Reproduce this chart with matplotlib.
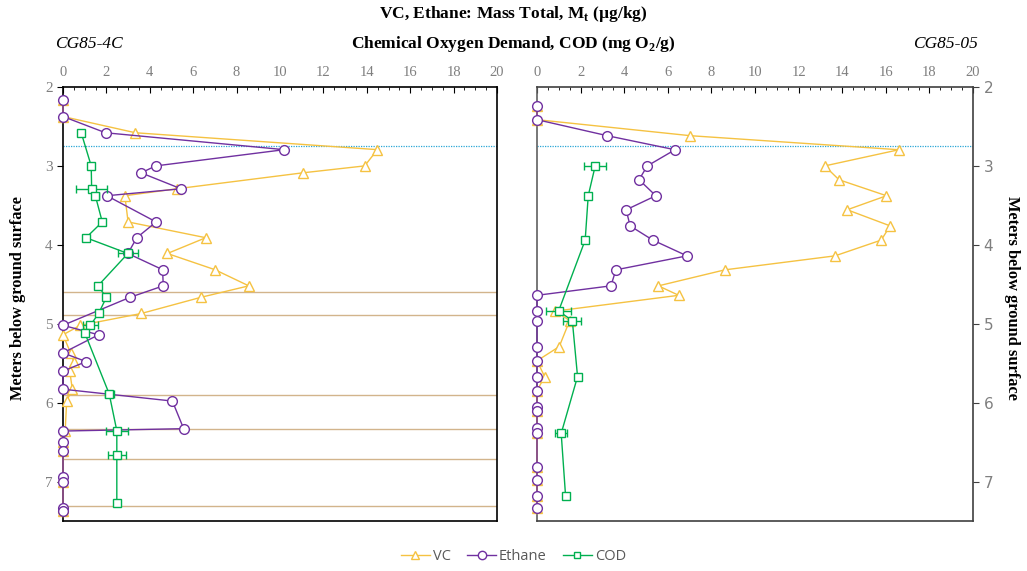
import matplotlib
matplotlib.use("Agg")
import matplotlib.pyplot as plt
from matplotlib.ticker import MultipleLocator
from matplotlib.lines import Line2D

# ---------------- data: CG85-4C (left) ----------------
L_eth_depth = [2.164, 2.374, 2.58, 2.794, 3.0, 3.088, 3.29, 3.378, 3.71, 3.91, 4.11, 4.315, 4.52,
               4.665, 5.02, 5.14, 5.37, 5.48, 5.6, 5.83, 5.98, 6.33, 6.36, 6.5, 6.61, 6.94, 7.0, 7.33, 7.37]
L_eth = [0, 0, 1.96, 10.2, 4.27, 3.6, 5.44, 2.02, 4.29, 3.4, 2.99, 4.59, 4.62,
         3.09, 0, 1.64, 0, 1.07, 0, 0, 5.04, 5.56, 0, 0, 0, 0, 0, 0, 0]
L_vc_depth = [2.164, 2.374, 2.58, 2.794, 3.0, 3.088, 3.29, 3.378, 3.71, 3.91, 4.11, 4.315, 4.52,
              4.665, 4.87, 5.02, 5.14, 5.37, 5.48, 5.6, 5.83, 5.98, 6.36, 6.5, 6.61, 6.94, 7.0, 7.33, 7.37]
L_vc = [0, 0, 3.34, 14.49, 13.9, 11.04, 5.24, 2.85, 3.0, 6.58, 4.81, 7.0, 8.56,
        6.36, 3.61, 0.8, 0, 0.35, 0.49, 0.31, 0.43, 0.17, 0.1, 0, 0, 0, 0, 0, 0]
L_cod_depth = [2.58, 3.0, 3.29, 3.378, 3.71, 3.91, 4.11, 4.52, 4.665, 4.87, 5.02, 5.12, 5.89, 6.356, 6.66, 7.27]
L_cod = [0.84, 1.30, 1.32, 1.49, 1.81, 1.06, 2.99, 1.61, 2.0, 1.64, 1.26, 1.01, 2.13, 2.48, 2.48, 2.48]
L_cod_err = [0, 0.05, 0.72, 0.15, 0, 0, 0.47, 0.1, 0, 0, 0.33, 0.1, 0.2, 0.52, 0.42, 0]
L_hlines = [4.6, 4.89, 5.9, 6.335, 6.71, 7.31]

# ---------------- data: CG85-05 (right) ----------------
R_eth_depth = [2.237, 2.414, 2.617, 2.795, 3.0, 3.175, 3.378, 3.556, 3.76, 3.94, 4.14, 4.317, 4.52,
               4.64, 4.84, 4.96, 5.29, 5.47, 5.67, 5.85, 6.05, 6.11, 6.32, 6.39, 6.82, 6.98, 7.18, 7.34]
R_eth = [0, 0, 3.22, 6.33, 5.06, 4.68, 5.45, 4.09, 4.27, 5.31, 6.88, 3.62, 3.39,
         0, 0, 0, 0, 0, 0, 0, 0, 0, 0, 0, 0, 0, 0, 0]
R_vc_depth = [2.237, 2.414, 2.617, 2.795, 3.0, 3.175, 3.378, 3.556, 3.76, 3.94, 4.14, 4.317, 4.52,
              4.64, 4.84, 4.96, 5.29, 5.47, 5.67, 5.85, 6.05, 6.11, 6.32, 6.39, 6.82, 6.98, 7.18, 7.34]
R_vc = [0, 0, 7.03, 16.6, 13.2, 13.85, 16.03, 14.23, 16.2, 15.79, 13.67, 8.62, 5.57,
        6.5, 0.84, 1.5, 1.02, 0, 0.35, 0, 0, 0, 0, 0, 0, 0, 0, 0]
R_cod_depth = [3.0, 3.378, 3.94, 4.84, 4.96, 5.67, 6.39, 7.18]
R_cod = [2.67, 2.35, 2.21, 0.99, 1.62, 1.86, 1.11, 1.31]
R_cod_err = [0.5, 0, 0, 0.57, 0.41, 0, 0.27, 0.05]

water_table = 2.75
x_ticks = [0, 2, 4, 6, 8, 10, 12, 14, 16, 18, 20]
y_ticks = [2, 3, 4, 5, 6, 7]

VC_C = "#F5C242"
ETH_C = "#7030A0"
COD_C = "#00B050"
TAN = "#D2B48C"
GRAY = "#7F7F7F"
SERIF = ["Liberation Serif", "DejaVu Serif"]

fig = plt.figure(figsize=(10.27, 5.71), dpi=100)
axL = fig.add_axes([63 / 1027, 1 - 521 / 571, 434 / 1027, 434 / 571])
axR = fig.add_axes([537 / 1027, 1 - 521 / 571, 436 / 1027, 434 / 571])


def draw(ax, vd, vc, ed, eth, cd, cod, cerr, hl):
    for h in hl:
        ax.axhline(h, color=TAN, lw=1.0, zorder=1)
    ax.axhline(water_table, color="#2AA7D6", lw=0.9, ls=(0, (1, 1)), zorder=1)
    ax.plot(vc, vd, color=VC_C, lw=1.0, marker="^", ms=7, mfc="white", mec=VC_C,
            mew=1.0, zorder=3, clip_on=False)
    ax.plot(eth, ed, color=ETH_C, lw=1.0, marker="o", ms=7, mfc="white", mec=ETH_C,
            mew=1.0, zorder=4, clip_on=False)
    ax.errorbar(cod, cd, xerr=cerr, color=COD_C, lw=1.0, marker="s", ms=6, mfc="white",
                mec=COD_C, mew=1.0, ecolor=COD_C, elinewidth=1.0, capsize=3, zorder=5)
    ax.set_xlim(0, 20)
    ax.set_ylim(7.5, 2)
    ax.xaxis.tick_top()
    ax.set_xticks(x_ticks)
    ax.xaxis.set_minor_locator(MultipleLocator(0.5))
    ax.tick_params(axis="x", which="major", direction="in", length=4, colors="black",
                   labelcolor=GRAY, labelsize=10.5, pad=6)
    ax.tick_params(axis="x", which="minor", direction="in", length=2.5, colors="black")
    ax.set_yticks(y_ticks)
    for lab in ax.get_xticklabels():
        lab.set_family(SERIF)


draw(axL, L_vc_depth, L_vc, L_eth_depth, L_eth, L_cod_depth, L_cod, L_cod_err, L_hlines)
draw(axR, R_vc_depth, R_vc, R_eth_depth, R_eth, R_cod_depth, R_cod, R_cod_err, [])

axL.tick_params(axis="y", direction="out", length=4, labelcolor=GRAY, labelsize=11)
for lab in axL.get_yticklabels():
    lab.set_family(SERIF)
for s in axL.spines.values():
    s.set_color("black")
    s.set_linewidth(1.2)

axR.yaxis.tick_right()
axR.tick_params(axis="y", direction="out", length=4, labelsize=11, colors="#404040")
axR.tick_params(axis="y", labelcolor=GRAY)
for s in axR.spines.values():
    s.set_color("#404040")
    s.set_linewidth(1.2)
axR.spines["left"].set_color("#606060")

# titles
fig.text(0.5, 1 - 14 / 571, "VC, Ethane: Mass Total, M$_\\mathregular{t}$ (µg/kg)",
         ha="center", va="center", fontsize=12.5, fontweight="bold", family=SERIF)
fig.text(0.5, 1 - 44 / 571, "Chemical Oxygen Demand, COD (mg O$_\\mathregular{2}$/g)",
         ha="center", va="center", fontsize=12.5, fontweight="bold", family=SERIF)
fig.text(55 / 1027, 1 - 44 / 571, "CG85-4C", ha="left", va="center", fontsize=12.5,
         style="italic", family=SERIF)
fig.text(978 / 1027, 1 - 44 / 571, "CG85-05", ha="right", va="center", fontsize=12.5,
         style="italic", family=SERIF)
fig.text(18 / 1027, 1 - 298 / 571, "Meters below ground surface", rotation=90,
         ha="center", va="center", fontsize=11.8, fontweight="bold", family=SERIF)
fig.text(1012 / 1027, 1 - 298 / 571, "Meters below ground surface", rotation=-90,
         ha="center", va="center", fontsize=11.8, fontweight="bold", family=SERIF)

handles = [
    Line2D([], [], color=VC_C, lw=1.0, marker="^", ms=6, mfc="white", mec=VC_C),
    Line2D([], [], color=ETH_C, lw=1.0, marker="o", ms=6, mfc="white", mec=ETH_C),
    Line2D([], [], color=COD_C, lw=1.0, marker="s", ms=5, mfc="white", mec=COD_C),
]
labels = ["VC", "Ethane", "COD"]
fig.legend(handles, labels, loc="center", bbox_to_anchor=(0.5, 1 - 557 / 571), ncol=3,
           frameon=False, labelcolor="#595959", handlelength=2.0,
           columnspacing=1.1, handletextpad=0.2, prop={"family": "Open Sans", "size": 10.5})

fig.savefig("out.png", dpi=100)
